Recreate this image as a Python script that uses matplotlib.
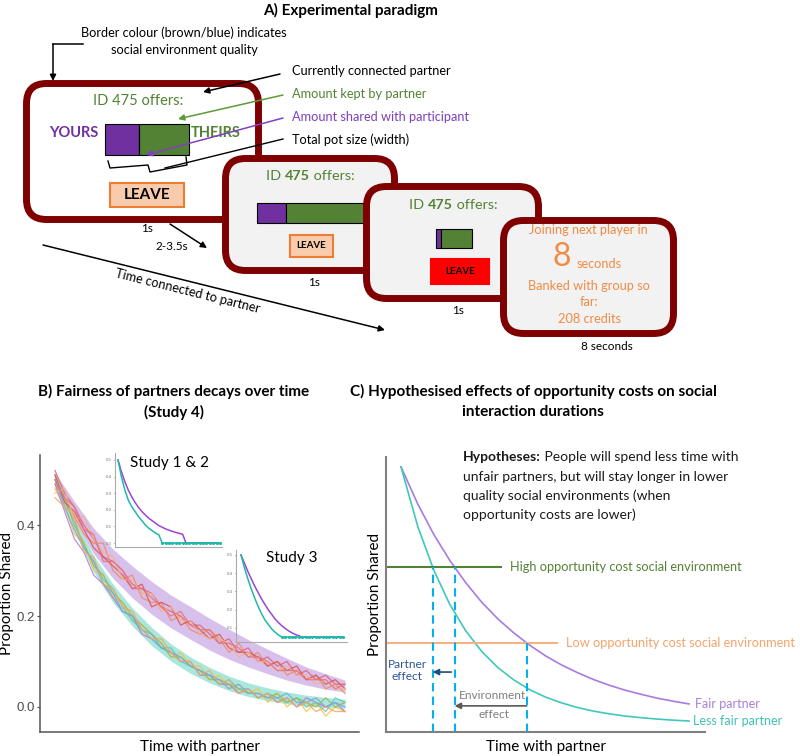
import matplotlib
matplotlib.use("Agg")
import matplotlib.pyplot as plt
from matplotlib.patches import FancyBboxPatch, Rectangle
import numpy as np

plt.rcParams["font.family"] = ["Lato", "DejaVu Sans"]

W, H = 800, 756

# ---------------- data ----------------
# panel A: offers shown on the three screens (shared with participant, total pot)
offer_shared = [34, 29, 5]
offer_total = [84, 110, 36]
partner_id = "475"
countdown = "8"
banked_credits = 208
screen_times = ["1s", "1s", "1s", "8 seconds"]
wait_time = "2-3.5s"

# panel B: Study 4, time steps and model ribbons
t_obs = np.arange(0, 31)
rib_t = np.arange(0, 31, 2)
fair_lo = [0.485, 0.408, 0.337, 0.283, 0.240, 0.204, 0.174, 0.149, 0.125, 0.105, 0.088, 0.073, 0.059, 0.048, 0.039, 0.033]
fair_hi = [0.515, 0.452, 0.393, 0.347, 0.310, 0.276, 0.246, 0.221, 0.195, 0.171, 0.148, 0.127, 0.107, 0.088, 0.073, 0.059]
unfair_lo = [0.488, 0.385, 0.297, 0.230, 0.178, 0.135, 0.101, 0.074, 0.053, 0.036, 0.023, 0.014, 0.007, 0.002, -0.001, -0.003]
unfair_hi = [0.512, 0.415, 0.333, 0.270, 0.218, 0.175, 0.139, 0.110, 0.087, 0.068, 0.053, 0.042, 0.033, 0.026, 0.021, 0.017]

fair_groups = {
    "#E0607E": [0.52, 0.47, 0.44, 0.40, 0.37, 0.33, 0.32, 0.30, 0.27, 0.26, 0.25, 0.22, 0.21, 0.20, 0.18, 0.18, 0.16, 0.14, 0.15, 0.12, 0.13, 0.10, 0.11, 0.09, 0.10, 0.07, 0.08, 0.06, 0.07, 0.05, 0.05],
    "#F08A5D": [0.49, 0.46, 0.42, 0.38, 0.36, 0.36, 0.30, 0.28, 0.29, 0.24, 0.23, 0.23, 0.19, 0.20, 0.17, 0.16, 0.17, 0.15, 0.12, 0.14, 0.11, 0.12, 0.09, 0.10, 0.07, 0.08, 0.06, 0.07, 0.04, 0.05, 0.03],
    "#D9534F": [0.51, 0.45, 0.43, 0.39, 0.35, 0.33, 0.31, 0.29, 0.26, 0.27, 0.22, 0.23, 0.22, 0.18, 0.19, 0.17, 0.15, 0.16, 0.13, 0.12, 0.12, 0.11, 0.09, 0.10, 0.08, 0.09, 0.06, 0.07, 0.05, 0.06, 0.04],
    "#F4B183": [0.47, 0.48, 0.41, 0.42, 0.37, 0.34, 0.33, 0.28, 0.28, 0.25, 0.25, 0.21, 0.22, 0.19, 0.19, 0.16, 0.15, 0.15, 0.14, 0.11, 0.12, 0.10, 0.10, 0.08, 0.09, 0.07, 0.07, 0.05, 0.06, 0.04, 0.04],
    "#E57373": [0.50, 0.46, 0.44, 0.39, 0.38, 0.32, 0.32, 0.30, 0.26, 0.26, 0.24, 0.22, 0.20, 0.21, 0.18, 0.17, 0.17, 0.14, 0.14, 0.13, 0.11, 0.11, 0.10, 0.08, 0.08, 0.08, 0.06, 0.06, 0.06, 0.04, 0.05],
}
unfair_groups = {
    "#F5C342": [0.48, 0.44, 0.38, 0.36, 0.30, 0.29, 0.24, 0.23, 0.19, 0.18, 0.16, 0.14, 0.11, 0.12, 0.09, 0.09, 0.06, 0.07, 0.04, 0.05, 0.03, 0.04, 0.01, 0.03, 0.00, 0.02, -0.01, 0.01, -0.02, 0.00, -0.01],
    "#B07CD8": [0.49, 0.43, 0.37, 0.34, 0.29, 0.27, 0.24, 0.21, 0.20, 0.16, 0.15, 0.13, 0.12, 0.10, 0.10, 0.07, 0.07, 0.05, 0.05, 0.03, 0.04, 0.02, 0.03, 0.01, 0.02, 0.00, 0.02, 0.01, 0.00, 0.01, -0.01],
    "#5BC8BE": [0.50, 0.45, 0.41, 0.35, 0.32, 0.28, 0.26, 0.22, 0.19, 0.17, 0.15, 0.13, 0.13, 0.10, 0.09, 0.08, 0.07, 0.05, 0.06, 0.04, 0.04, 0.02, 0.03, 0.02, 0.01, 0.02, 0.00, 0.01, -0.01, 0.02, 0.01],
    "#9BB55A": [0.51, 0.46, 0.40, 0.36, 0.31, 0.29, 0.25, 0.23, 0.20, 0.18, 0.16, 0.14, 0.11, 0.11, 0.09, 0.08, 0.06, 0.06, 0.05, 0.04, 0.03, 0.03, 0.02, 0.03, 0.01, 0.02, 0.01, 0.00, 0.02, 0.00, 0.01],
    "#7BA7D7": [0.50, 0.44, 0.39, 0.35, 0.32, 0.27, 0.25, 0.21, 0.20, 0.17, 0.16, 0.13, 0.12, 0.11, 0.09, 0.08, 0.07, 0.06, 0.04, 0.05, 0.03, 0.03, 0.02, 0.02, 0.03, 0.01, 0.01, 0.02, 0.00, 0.01, 0.00],
    "#F7A35C": [0.46, 0.44, 0.42, 0.34, 0.33, 0.27, 0.26, 0.22, 0.21, 0.17, 0.15, 0.15, 0.12, 0.10, 0.10, 0.07, 0.08, 0.05, 0.06, 0.03, 0.04, 0.02, 0.03, 0.01, 0.02, 0.00, 0.01, -0.01, 0.00, -0.01, -0.01],
}

# insets: Study 1 & 2 and Study 3 model predictions
s12_fair = [0.50, 0.43, 0.37, 0.32, 0.28, 0.245, 0.215, 0.19, 0.17, 0.15, 0.135, 0.12, 0.105, 0.095, 0.085, 0.077, 0.07, 0.064, 0.058, 0.053] + [0.0] * 11
s12_unfair = [0.50, 0.40, 0.32, 0.26, 0.22, 0.19, 0.16, 0.135, 0.11, 0.09, 0.075, 0.06, 0.05] + [0.0] * 18
s3_fair = [0.50, 0.455, 0.41, 0.37, 0.33, 0.295, 0.26, 0.23, 0.20, 0.175, 0.15, 0.13, 0.112, 0.097, 0.084, 0.073, 0.064, 0.057] + [0.05] * 13
s3_unfair = [0.50, 0.43, 0.37, 0.315, 0.265, 0.22, 0.18, 0.145, 0.12, 0.095, 0.077, 0.062] + [0.05] * 19

# panel C: hypothesised curves
t_hyp = [0.47, 1.0, 1.5, 2.0, 2.5, 3.0, 3.5, 4.0, 4.5, 5.0, 5.5, 6.0, 6.5, 7.0, 7.5, 8.0, 8.5, 9.0, 9.5]
fair_partner = [0.964, 0.828, 0.718, 0.624, 0.543, 0.472, 0.412, 0.361, 0.316, 0.277, 0.244, 0.216, 0.191, 0.170, 0.152, 0.137, 0.123, 0.112, 0.102]
less_fair_partner = [0.964, 0.746, 0.588, 0.464, 0.368, 0.293, 0.235, 0.190, 0.154, 0.127, 0.106, 0.089, 0.076, 0.066, 0.058, 0.052, 0.047, 0.043, 0.040]
high_cost = 0.6
low_cost = 0.324

# colours
MAROON = "#7F0000"
PURPLE = "#7030A0"
GREEN = "#548235"
ORANGE = "#F08C44"

fig = plt.figure(figsize=(W / 100, H / 100), dpi=100)
ov = fig.add_axes([0, 0, 1, 1])
ov.set_xlim(0, W)
ov.set_ylim(H, 0)
ov.axis("off")
renderer = fig.canvas.get_renderer()


def px_axes(x0, y0, x1, y1):
    return fig.add_axes([x0 / W, 1 - y1 / H, (x1 - x0) / W, (y1 - y0) / H])


def screen(x0, y0, x1, y1, face, z):
    ov.add_patch(FancyBboxPatch((x0, y0), x1 - x0, y1 - y0,
                                boxstyle="round,pad=0,rounding_size=20",
                                fc=face, ec=MAROON, lw=5, zorder=z))


def offer_bar(x0, y0, h, shared, total, z):
    ov.add_patch(Rectangle((x0, y0), shared, h, fc=PURPLE, ec="black", lw=0.8, zorder=z))
    ov.add_patch(Rectangle((x0 + shared, y0), total - shared, h, fc=GREEN, ec="black", lw=0.8, zorder=z))


def leave(x0, y0, w, h, face, edge, size, z):
    ov.add_patch(Rectangle((x0, y0), w, h, fc=face, ec=edge, lw=1.5, zorder=z))
    ov.text(x0 + w / 2, y0 + h / 2, "LEAVE", fontsize=size, fontweight="bold",
            ha="center", va="center", zorder=z + 0.1)


def rich(x, y, parts, size, color, z, ha="center"):
    # text with mixed weights
    texts, widths = [], []
    for s, wt in parts:
        t = ov.text(0, y, s, fontsize=size, color=color, fontweight=wt,
                    ha="left", va="center", zorder=z)
        widths.append(t.get_window_extent(renderer).width)
        texts.append(t)
    cx = x - sum(widths) / 2 if ha == "center" else x
    for t, w in zip(texts, widths):
        t.set_x(cx)
        cx += w


def arrow(x0, y0, x1, y1, color, z, lw=1.1):
    ov.annotate("", xy=(x1, y1), xytext=(x0, y0), zorder=z,
                arrowprops=dict(arrowstyle="-|>", color=color, lw=lw,
                                mutation_scale=9, shrinkA=0, shrinkB=0))


LBL = 9.2

# ---------------- panel A ----------------
ov.text(351, 10, "A) Experimental paradigm", fontsize=11, fontweight="bold", ha="center", va="center")

ov.text(184, 33, "Border colour (brown/blue) indicates", fontsize=LBL, ha="center", va="center")
ov.text(184, 50, "social environment quality", fontsize=LBL, ha="center", va="center")
ov.plot([83, 53], [44, 44], color="black", lw=1.1)
arrow(53, 44, 53, 81, "black", 4)

# screen 1
screen(26.5, 83.5, 258.5, 219.5, "white", 2)
ov.text(138, 101, "ID " + partner_id + " offers:", fontsize=10.5, color=GREEN, ha="center", va="center", zorder=3)
offer_bar(105, 124, 31, offer_shared[0], offer_total[0], 3)
ov.text(74, 133, "YOURS", fontsize=10.5, fontweight="bold", color=PURPLE, ha="center", va="center", zorder=3)
ov.text(216, 133, "THEIRS", fontsize=10.5, fontweight="bold", color=GREEN, ha="center", va="center", zorder=3)
ov.plot([108, 110, 148, 150, 187, 186], [161, 168, 165, 172, 165, 157], color="black", lw=1.0, zorder=3)
leave(110, 183, 74, 24, "#F8CBAD", "#ED7D31", 11, 3)
ov.text(147, 229, screen_times[0], fontsize=8.5, ha="center", va="center")

# labels on the right of screen 1
ov.text(292, 71, "Currently connected partner", fontsize=LBL, ha="left", va="center")
ov.text(292, 94, "Amount kept by partner", fontsize=LBL, color=GREEN, ha="left", va="center")
ov.text(292, 117, "Amount shared with participant", fontsize=LBL, color="#7F3FBF", ha="left", va="center")
ov.text(292, 140, "Total pot size (width)", fontsize=LBL, ha="left", va="center")
arrow(280, 74, 203, 92, "black", 4)
arrow(283, 95, 178, 119, "#5E9A3A", 4)
arrow(283, 118, 146, 155, "#8040C0", 4)
ov.plot([283, 165], [139, 168], color="black", lw=1.0, zorder=4)

# waiting arrow and long time arrow
arrow(170, 224, 207, 248, "black", 4)
ov.text(172, 247, wait_time, fontsize=8.5, ha="center", va="center")
arrow(43, 245, 385, 330, "black", 4)
ov.text(188, 291, "Time connected to partner", fontsize=LBL, rotation=-14,
        rotation_mode="anchor", ha="center", va="center")

# screen 2
screen(225.5, 158.5, 394.5, 270.5, "#F2F2F2", 5)
rich(310, 176, [("ID ", "normal"), (partner_id, "bold"), (" offers:", "normal")], 10.4, GREEN, 6)
offer_bar(257, 203, 20, offer_shared[1], offer_total[1], 6)
leave(290, 235, 43, 22, "#F8CBAD", "#ED7D31", 7, 6)
ov.text(314, 282, screen_times[1], fontsize=8.5, ha="center", va="center")

# screen 3
screen(366.5, 186.5, 538.5, 298.5, "#F2F2F2", 7)
rich(453, 205, [("ID ", "normal"), (partner_id, "bold"), (" offers:", "normal")], 10.4, GREEN, 8)
offer_bar(436, 229, 19, offer_shared[2], offer_total[2], 8)
leave(431, 259, 58, 25, "#FF0000", "#FF0000", 7, 8)
ov.text(458, 310, screen_times[2], fontsize=8.5, ha="center", va="center")

# screen 4
screen(503.5, 220.5, 673.5, 333.5, "#F2F2F2", 9)
ov.text(588, 230, "Joining next player in", fontsize=LBL, color=ORANGE, ha="center", va="center", zorder=10)
ov.text(562, 257, countdown, fontsize=23, color=ORANGE, ha="center", va="center", zorder=10)
ov.text(577, 264, "seconds", fontsize=LBL, color=ORANGE, ha="left", va="center", zorder=10)
ov.text(589, 286, "Banked with group so", fontsize=LBL, color=ORANGE, ha="center", va="center", zorder=10)
ov.text(589, 302, "far:", fontsize=LBL, color=ORANGE, ha="center", va="center", zorder=10)
ov.text(589, 319, f"{banked_credits} credits", fontsize=LBL, color=ORANGE, ha="center", va="center", zorder=10)
ov.text(607, 347, screen_times[3], fontsize=8.5, ha="center", va="center")

# ---------------- panel B ----------------
ov.text(174, 391, "B) Fairness of partners decays over time", fontsize=11, fontweight="bold", ha="center", va="center")
ov.text(174, 412, "(Study 4)", fontsize=11, fontweight="bold", ha="center", va="center")

axb = px_axes(40, 455, 359, 732)
axb.fill_between(rib_t, fair_lo, fair_hi, color="#D8C0EC", lw=0)
axb.fill_between(rib_t, unfair_lo, unfair_hi, color="#A9E7DD", lw=0)
for col, vals in unfair_groups.items():
    axb.plot(t_obs, vals, color=col, lw=0.9, alpha=0.85)
for col, vals in fair_groups.items():
    axb.plot(t_obs, vals, color=col, lw=0.9, alpha=0.85)
axb.set_xlim(-1.55, 31.45)
axb.set_ylim(-0.055, 0.554)
axb.set_xticks([])
axb.set_yticks([0.0, 0.2, 0.4])
axb.set_yticklabels(["0.0", "0.2", "0.4"], family="Liberation Sans")
axb.tick_params(axis="y", labelsize=9.5, labelcolor="#4D4D4D", color="#4D4D4D", length=2, pad=1.5)
for s in ["top", "right"]:
    axb.spines[s].set_visible(False)
for s in ["left", "bottom"]:
    axb.spines[s].set_color("#555555")
    axb.spines[s].set_linewidth(1.1)
axb.set_xlabel("Time with partner", fontsize=11, labelpad=6)
axb.set_ylabel("Proportion Shared", fontsize=11, labelpad=2)
axb.patch.set_alpha(0)


def inset(rect, fair, unfair, ylim, ticks, title, tx, ty):
    ax = px_axes(*rect)
    ax.plot(t_obs, fair, color="#9A45D6", lw=1.1)
    ax.plot(t_obs, unfair, color="#1FB8AA", lw=1.1, marker=".", ms=2.5,
            markevery=[i for i in range(len(unfair)) if unfair[i] == unfair[-1]])
    ax.set_ylim(*ylim)
    ax.set_xticks([])
    ax.set_yticks(ticks)
    ax.set_yticklabels([f"{v:.1f}" for v in ticks], family="Liberation Sans")
    ax.tick_params(axis="y", labelsize=3.2, labelcolor="#777777", length=1, width=0.4, pad=1)
    for s in ["top", "right"]:
        ax.spines[s].set_visible(False)
    for s in ["left", "bottom"]:
        ax.spines[s].set_color("#AAAAAA")
        ax.spines[s].set_linewidth(0.8)
    ax.patch.set_alpha(0)
    ov.text(tx, ty, title, fontsize=11, ha="center", va="center")
    return ax


ax1 = inset((115, 453, 222, 547), s12_fair, s12_unfair, (-0.024, 0.542), [0.0, 0.1, 0.2, 0.3, 0.4, 0.5], "Study 1 & 2", 170, 463)
ax1.set_xlim(-0.88, 30.59)
ax2 = inset((236, 550, 347, 642), s3_fair, s3_unfair, (0.023, 0.527), [0.1, 0.2, 0.3, 0.4, 0.5], "Study 3", 292, 558)
ax2.set_xlim(-1.47, 31.18)

# ---------------- panel C ----------------
ov.text(533, 391, "C) Hypothesised effects of opportunity costs on social", fontsize=11, fontweight="bold", ha="center", va="center")
ov.text(533, 412, "interaction durations", fontsize=11, fontweight="bold", ha="center", va="center")

axc = px_axes(386, 457, 705, 732)
axc.set_xlim(0, 10)
axc.set_ylim(0, 1)
axc.plot(t_hyp, fair_partner, color="#A77BE0", lw=1.2)
axc.plot(t_hyp, less_fair_partner, color="#40C8BC", lw=1.2)
axc.hlines(high_cost, 0, 3.64, color=GREEN, lw=1.5)
axc.hlines(low_cost, 0, 5.39, color="#F4B183", lw=1.5)
axc.text(3.9, high_cost, "High opportunity cost social environment", fontsize=LBL, color=GREEN, va="center", clip_on=False)
axc.text(5.64, low_cost, "Low opportunity cost social environment", fontsize=LBL, color="#F4A46C", va="center", clip_on=False)

# where each curve meets each opportunity cost
x_unfair_high = np.interp(high_cost, less_fair_partner[::-1], t_hyp[::-1])
x_fair_high = np.interp(high_cost, fair_partner[::-1], t_hyp[::-1])
x_fair_low = np.interp(low_cost, fair_partner[::-1], t_hyp[::-1])
for xv, lv in [(x_unfair_high, high_cost), (x_fair_high, high_cost), (x_fair_low, low_cost)]:
    axc.vlines(xv, 0, lv, color="#00B0F0", lw=1.5, linestyles=(0, (4, 2.5)))

axc.annotate("", xy=(x_unfair_high, 0.218), xytext=(x_fair_high - 0.1, 0.218),
             arrowprops=dict(arrowstyle="-|>", color="#1F4E79", lw=1.2, mutation_scale=9, shrinkA=0, shrinkB=0))
axc.annotate("", xy=(x_fair_high, 0.095), xytext=(x_fair_low, 0.095),
             arrowprops=dict(arrowstyle="-|>", color="#595959", lw=1.2, mutation_scale=9, shrinkA=0, shrinkB=0))
axc.text(0.66, 0.222, "Partner\neffect", fontsize=8.6, color="#2F5597", ha="center", va="center", linespacing=1.1)
axc.text(3.35, 0.131, "Environment", fontsize=8.6, color="#7F7F7F", ha="center", va="center")
axc.text(3.38, 0.065, "effect", fontsize=8.6, color="#7F7F7F", ha="center", va="center")
axc.text(9.69, 0.102, "Fair partner", fontsize=9, color="#A57FDB", va="center", clip_on=False)
axc.text(9.62, 0.040, "Less fair partner", fontsize=9, color="#3FC1B4", va="center", clip_on=False)

axc.set_xticks([])
axc.set_yticks([])
for s in ["top", "right"]:
    axc.spines[s].set_visible(False)
for s in ["left", "bottom"]:
    axc.spines[s].set_color("#808080")
    axc.spines[s].set_linewidth(1.5)
axc.set_xlabel("Time with partner", fontsize=11, labelpad=6)
axc.set_ylabel("Proportion Shared", fontsize=11, labelpad=3)
axc.patch.set_alpha(0)

HYP = 10
rich(463, 457, [("Hypotheses:", "bold"), (" People will spend less time with", "normal")], HYP, "#1A1A1A", 5, ha="left")
for i, line in enumerate(["unfair partners, but will stay longer in lower",
                          "quality social environments (when",
                          "opportunity costs are lower)"]):
    ov.text(463, 477 + 19 * i, line, fontsize=HYP, color="#1A1A1A", ha="left", va="center")

fig.savefig("out.png", dpi=100)
